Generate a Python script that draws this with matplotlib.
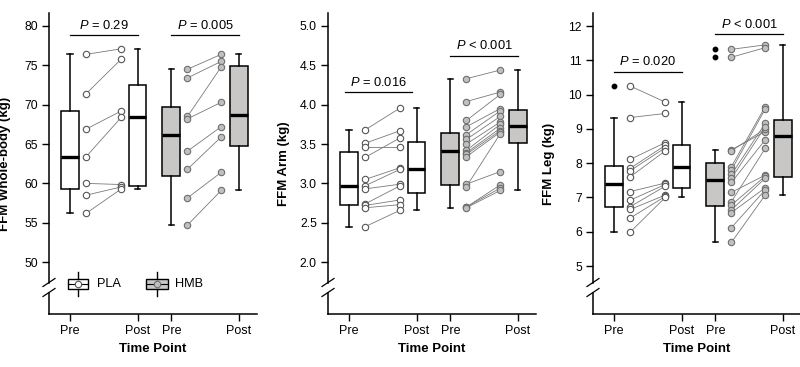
import matplotlib
matplotlib.use("Agg")
import matplotlib.pyplot as plt
from matplotlib.lines import Line2D
from matplotlib.patches import Rectangle

plt.rcParams['font.family'] = ['Liberation Sans', 'DejaVu Sans']
plt.rcParams['mathtext.fontset'] = 'custom'
plt.rcParams['mathtext.it'] = 'Liberation Sans:italic'
plt.rcParams['mathtext.rm'] = 'Liberation Sans'

# ---------------- data ----------------
groups = ["PLA", "HMB"]
tick_labels = ["Pre", "Post", "Pre", "Post"]

wb_pla_pre = [76.4, 71.4, 66.9, 63.4, 60.0, 58.5, 56.2]
wb_pla_post = [77.1, 75.8, 69.2, 68.4, 59.85, 59.55, 59.3]
wb_hmb_pre = [74.5, 73.4, 68.5, 68.2, 64.1, 61.8, 58.15, 54.7]
wb_hmb_post = [76.4, 75.5, 74.8, 70.3, 67.2, 65.9, 61.4, 59.1]

arm_pla_pre = [3.68, 3.51, 3.46, 3.33, 3.05, 2.97, 2.93, 2.74, 2.72, 2.69, 2.45]
arm_pla_post = [3.96, 3.67, 3.46, 3.58, 3.20, 3.18, 2.99, 2.97, 2.79, 2.73, 2.66]
arm_hmb_pre = [4.33, 4.04, 3.80, 3.72, 3.62, 3.56, 3.50, 3.42, 3.39, 3.37, 3.34,
               2.99, 2.96, 2.70, 2.70, 2.69]
arm_hmb_post = [4.44, 4.16, 4.13, 3.95, 3.92, 3.85, 3.78, 3.75, 3.70, 3.67, 3.65,
                3.15, 3.63, 2.98, 2.94, 2.91]

leg_pla_pre = [10.25, 9.33, 8.11, 7.85, 7.78, 7.60, 7.17, 6.92, 6.73, 6.65, 6.40, 5.99]
leg_pla_post = [9.78, 9.45, 8.60, 8.52, 8.45, 8.36, 7.42, 7.38, 7.33, 7.07, 7.03, 7.00]
leg_hmb_pre = [11.32, 11.09, 8.39, 8.36, 7.90, 7.80, 7.67, 7.56, 7.44, 7.15, 6.88,
               6.78, 6.64, 6.56, 6.12, 5.69]
leg_hmb_post = [11.45, 11.37, 8.92, 9.00, 9.65, 9.58, 9.16, 9.06, 8.68, 7.65, 8.43,
                7.62, 7.56, 7.28, 7.22, 7.07]

wb_yticks = [50, 55, 60, 65, 70, 75, 80]
arm_yticks = [2.0, 2.5, 3.0, 3.5, 4.0, 4.5, 5.0]
leg_yticks = [5, 6, 7, 8, 9, 10, 11, 12]

p_texts = {
    "wb": ["$P$ = 0.29", "$P$ = 0.005"],
    "arm": ["$P$ = 0.016", "$P$ < 0.001"],
    "leg": ["$P$ = 0.020", "$P$ < 0.001"],
}

# ---------------- style ----------------
positions = [0, 1, 1.5, 2.5]
off = 0.24
box_fill = ["white", "white", "#c9c6c6", "#c9c6c6"]
pt_face = {"PLA": "white", "HMB": "#c0c0c0"}
pt_edge = {"PLA": "#555555", "HMB": "#6e6e6e"}

fig = plt.figure(figsize=(8.0, 3.67), dpi=100)
W, H = 800, 367
ax_top, ax_bot, ax_w = 13, 314, 208


def make_ax(left_px):
    return fig.add_axes([left_px / W, (H - ax_bot) / H, ax_w / W, (ax_bot - ax_top) / H])


panels = [
    dict(left=49, data=[wb_pla_pre, wb_pla_post, wb_hmb_pre, wb_hmb_post],
         ylim=(43.4, 81.65), yticks=wb_yticks, fmt="{:.0f}", ylabel="FFM Whole-body (kg)",
         p=p_texts["wb"], plines=[((0, 1), 78.85), ((1.5, 2.5), 78.85)], legend=True),
    dict(left=328, data=[arm_pla_pre, arm_pla_post, arm_hmb_pre, arm_hmb_post],
         ylim=(1.34, 5.165), yticks=arm_yticks, fmt="{:.1f}", ylabel="FFM Arm (kg)",
         p=p_texts["arm"], plines=[((-0.06, 0.94), 4.157), ((1.5, 2.5), 4.62)], legend=False),
    dict(left=593, data=[leg_pla_pre, leg_pla_post, leg_hmb_pre, leg_hmb_post],
         ylim=(3.6, 12.38), yticks=leg_yticks, fmt="{:.0f}", ylabel="FFM Leg (kg)",
         p=p_texts["leg"], plines=[((0, 1), 10.67), ((1.5, 2.5), 11.76)], legend=False),
]

for pn in panels:
    ax = make_ax(pn["left"])
    d = pn["data"]
    bp = ax.boxplot(d, positions=positions, widths=0.26, patch_artist=True, whis=1.5,
                    capwidths=0.08,
                    boxprops=dict(linewidth=1.1, edgecolor="black"),
                    medianprops=dict(linewidth=2.4, color="black", solid_capstyle="butt"),
                    whiskerprops=dict(linewidth=1.1, color="black"),
                    capprops=dict(linewidth=1.1, color="black"),
                    flierprops=dict(marker="o", markersize=3.2, markerfacecolor="black",
                                    markeredgecolor="black"),
                    zorder=2)
    for patch, fc in zip(bp["boxes"], box_fill):
        patch.set_facecolor(fc)

    # paired points
    for gi, g in enumerate(groups):
        pre = d[2 * gi]
        post = d[2 * gi + 1]
        xpre = positions[2 * gi] + off
        xpost = positions[2 * gi + 1] - off - (0.02 if g == "HMB" else 0)
        for a, b in zip(pre, post):
            ax.plot([xpre, xpost], [a, b], color="#7a7a7a", lw=0.6, zorder=3)
        ax.plot([xpre] * len(pre), pre, "o", ms=4.6, mfc=pt_face[g], mec=pt_edge[g],
                mew=0.8, zorder=4, linestyle="none")
        ax.plot([xpost] * len(post), post, "o", ms=4.6, mfc=pt_face[g], mec=pt_edge[g],
                mew=0.8, zorder=4, linestyle="none")

    ax.set_xlim(-0.311, 2.77)
    ax.set_ylim(*pn["ylim"])
    ax.set_xticks(positions)
    ax.set_xticklabels(tick_labels, fontsize=9)
    ax.set_yticks(pn["yticks"])
    ax.set_yticklabels([pn["fmt"].format(v) for v in pn["yticks"]], fontsize=8.8)
    ax.tick_params(axis="both", direction="out", length=5, width=1.0, pad=3, colors="black")
    ax.set_xlabel("Time Point", fontsize=9.5, fontweight="bold", labelpad=4)
    ax.set_ylabel(pn["ylabel"], fontsize=9.5, fontweight="bold")
    ax.yaxis.set_label_coords(-0.185, 0.5)

    for s in ["top", "right", "left"]:
        ax.spines[s].set_visible(False)
    ax.spines["bottom"].set_linewidth(1.1)

    # broken left spine
    def fy(ypx):
        return (ax_bot - ypx) / (ax_bot - ax_top)
    tr = ax.transAxes
    ax.add_line(Line2D([0, 0], [fy(282.5), 1], transform=tr, color="black", lw=1.1, clip_on=False))
    ax.add_line(Line2D([0, 0], [0, fy(292.5)], transform=tr, color="black", lw=1.1, clip_on=False))
    for yc in (282.5, 292.5):
        ax.add_line(Line2D([-6 / ax_w, 6 / ax_w], [fy(yc + 4), fy(yc - 4)], transform=tr,
                           color="black", lw=0.9, clip_on=False))

    # P-value annotations
    for (xs, yv), txt in zip(pn["plines"], pn["p"]):
        ax.plot(list(xs), [yv, yv], color="black", lw=0.9, clip_on=False, zorder=5)
        ax.annotate(txt, xy=(sum(xs) / 2, yv), xytext=(0, 2.5), textcoords="offset points",
                    ha="center", va="bottom", fontsize=9.3, annotation_clip=False)

    if pn["legend"]:
        def px(x, y):
            return ((x - pn["left"]) / ax_w, (ax_bot - y) / (ax_bot - ax_top))
        for (x0, x1, xc, fc, g, tx) in [(67.7, 88.3, 78.0, "white", "PLA", 97.5),
                                        (145.7, 168.3, 157.0, "#c9c6c6", "HMB", 175.5)]:
            yc = 283.8
            (ax0, ay0) = px(x0, yc + 4.8)
            (ax1, ay1) = px(x1, yc - 4.8)
            ax.add_patch(Rectangle((ax0, ay0), ax1 - ax0, ay1 - ay0, transform=tr,
                                   facecolor=fc, edgecolor="black", lw=1.0, clip_on=False,
                                   zorder=6))
            a, b = px(xc, yc - 12)
            c, e = px(xc, yc - 4.8)
            ax.add_line(Line2D([a, c], [b, e], transform=tr, color="black", lw=1.0,
                               clip_on=False, zorder=6))
            a, b = px(xc, yc + 4.8)
            c, e = px(xc, yc + 12)
            ax.add_line(Line2D([a, c], [b, e], transform=tr, color="black", lw=1.0,
                               clip_on=False, zorder=6))
            a, b = px(x0, yc)
            c, e = px(x1, yc)
            ax.add_line(Line2D([a, c], [b, e], transform=tr, color="black", lw=0.8,
                               clip_on=False, zorder=7))
            cx, cy = px(xc, yc)
            ax.add_line(Line2D([cx], [cy], transform=tr, marker="o", ms=4.6,
                               mfc=pt_face[g], mec=pt_edge[g], mew=0.8, linestyle="none",
                               clip_on=False, zorder=8))
            tx_, ty_ = px(tx, yc)
            ax.text(tx_, ty_, g, transform=tr, ha="left", va="center", fontsize=9.2)

fig.savefig("out.png", dpi=100)
